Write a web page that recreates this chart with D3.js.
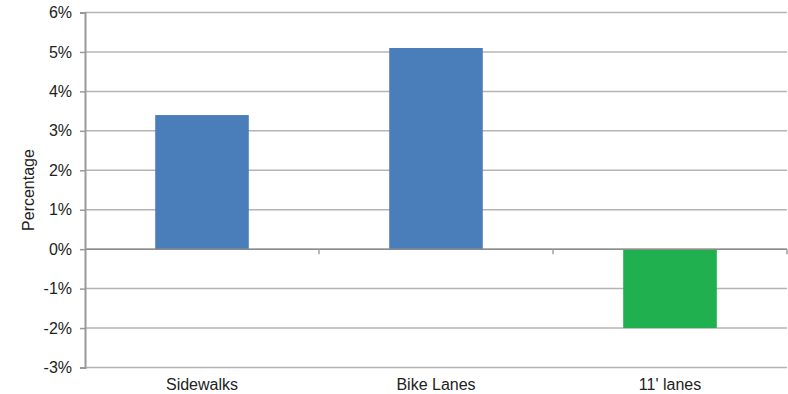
<!DOCTYPE html>
<html>
<head>
<script src="https://d3js.org/d3.v7.min.js"></script>
<style>
  body { margin: 0; background: #fff; }
  text { font-family: "Liberation Sans", Arial, sans-serif; fill: #222; }
</style>
</head>
<body>
<div id="chart"></div>
<script>
var categories = ["Sidewalks", "Bike Lanes", "11' lanes"];
var values = [3.4, 5.1, -2.0];
var barColors = ["#4a7ebb", "#4a7ebb", "#20b04f"];
var yTicks = [-3, -2, -1, 0, 1, 2, 3, 4, 5, 6];

var width = 788, height = 394;
var margin = {top: 12.5, right: 1, bottom: 26.5, left: 85};

var svg = d3.select("#chart").append("svg")
    .attr("width", width)
    .attr("height", height);

var x = d3.scaleBand()
    .domain(categories)
    .range([margin.left, width - margin.right])
    .paddingInner(0.6)
    .paddingOuter(0.3);

var y = d3.scaleLinear()
    .domain([-3, 6])
    .range([height - margin.bottom, margin.top]);

// gridlines
svg.append("g")
  .selectAll("line")
  .data(yTicks)
  .enter().append("line")
    .attr("x1", margin.left)
    .attr("x2", width - margin.right)
    .attr("y1", function(d) { return y(d); })
    .attr("y2", function(d) { return y(d); })
    .attr("stroke", "#b4b4b4")
    .attr("stroke-width", 1.5);

// bars
svg.append("g")
  .selectAll("rect")
  .data(values)
  .enter().append("rect")
    .attr("x", function(d, i) { return x(categories[i]); })
    .attr("width", x.bandwidth())
    .attr("y", function(d) { return y(Math.max(0, d)); })
    .attr("height", function(d) { return Math.abs(y(d) - y(0)); })
    .attr("fill", function(d, i) { return barColors[i]; });

// zero line with category ticks
svg.append("line")
    .attr("x1", margin.left)
    .attr("x2", width - margin.right)
    .attr("y1", y(0))
    .attr("y2", y(0))
    .attr("stroke", "#8c8c8c")
    .attr("stroke-width", 1.5);

svg.append("g")
  .selectAll("line")
  .data(categories.slice(1).concat(["end"]))
  .enter().append("line")
    .attr("x1", function(d, i) { return margin.left + (i + 1) * x.step(); })
    .attr("x2", function(d, i) { return margin.left + (i + 1) * x.step(); })
    .attr("y1", y(0))
    .attr("y2", y(0) + 5)
    .attr("stroke", "#a0a0a0")
    .attr("stroke-width", 1.5);

// y axis
var yAxis = d3.axisLeft(y)
    .tickValues(yTicks)
    .tickSize(5)
    .tickPadding(8)
    .tickFormat(function(d) { return d + "%"; });

var gy = svg.append("g")
    .attr("transform", "translate(" + margin.left + ",0)")
    .call(yAxis);
gy.select(".domain").attr("stroke", "#999").attr("stroke-width", 2);
gy.selectAll(".tick line").attr("stroke", "#999").attr("stroke-width", 1.5);
gy.selectAll(".tick text")
    .style("font-size", "16px")
    .style("font-family", "Liberation Sans, Arial, sans-serif")
    .attr("fill", "#222");

// category labels
svg.append("g")
  .selectAll("text")
  .data(categories)
  .enter().append("text")
    .attr("x", function(d) { return x(d) + x.bandwidth() / 2; })
    .attr("y", 390)
    .attr("text-anchor", "middle")
    .style("font-size", "16px")
    .text(function(d) { return d; });

// y label
svg.append("text")
    .attr("transform", "translate(34," + y(1.5) + ") rotate(-90)")
    .attr("text-anchor", "middle")
    .style("font-size", "16px")
    .text("Percentage");
</script>
</body>
</html>
